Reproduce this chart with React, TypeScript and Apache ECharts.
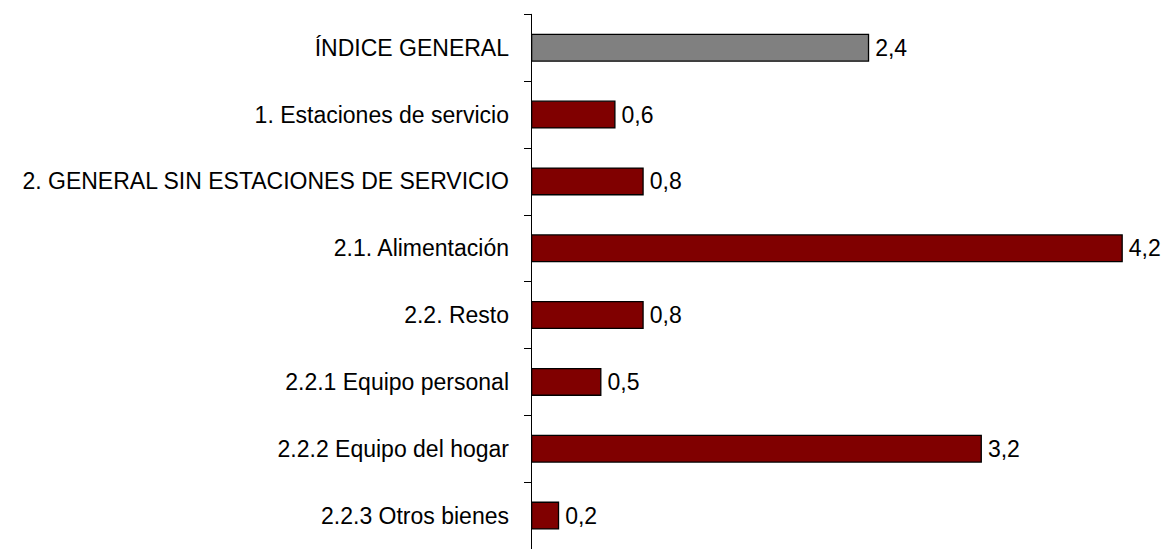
import React, { useEffect, useRef } from "react";
import * as echarts from "echarts";

const categories = [
  "ÍNDICE GENERAL",
  "1. Estaciones de servicio",
  "2. GENERAL SIN ESTACIONES DE SERVICIO",
  "2.1. Alimentación",
  "2.2. Resto",
  "2.2.1 Equipo personal",
  "2.2.2 Equipo del hogar",
  "2.2.3 Otros bienes",
];
const values = [2.4, 0.6, 0.8, 4.2, 0.8, 0.5, 3.2, 0.2];
const barColors = ["#808080", "#800000", "#800000", "#800000", "#800000", "#800000", "#800000", "#800000"];

export default function App() {
  const ref = useRef<HTMLDivElement>(null);
  useEffect(() => {
    if (!ref.current) return;
    const chart = echarts.init(ref.current, null, { renderer: "svg" });
    chart.setOption({
      animation: false,
      backgroundColor: "#ffffff",
      textStyle: { fontFamily: "Liberation Sans, Arial, sans-serif" },
      grid: { left: 531, right: 11, top: 14.3, bottom: -4.5, containLabel: false },
      xAxis: { type: "value", min: 0, max: 4.4, show: false },
      yAxis: {
        type: "category",
        inverse: true,
        data: categories,
        axisLine: { show: true, lineStyle: { color: "#000", width: 1 } },
        axisTick: { show: true, length: 7, lineStyle: { color: "#000" } },
        axisLabel: { color: "#000", fontSize: 23, margin: 22, fontFamily: "Liberation Sans, Arial, sans-serif" },
        splitLine: { show: false },
      },
      series: [
        {
          type: "bar",
          barWidth: 28,
          data: values.map((v, i) => ({
            value: v,
            itemStyle: { color: barColors[i], borderColor: "#000", borderWidth: 1.3 },
          })),
          label: {
            show: true,
            position: "right",
            distance: 6,
            color: "#000",
            fontSize: 23,
            fontFamily: "Liberation Sans, Arial, sans-serif",
            formatter: (p: any) => String(p.value.toFixed(1)).replace(".", ","),
          },
        },
      ],
    });
    return () => chart.dispose();
  }, []);
  return <div ref={ref} style={{ position: "fixed", left: 0, top: 0, width: 1162, height: 549 }} />;
}
